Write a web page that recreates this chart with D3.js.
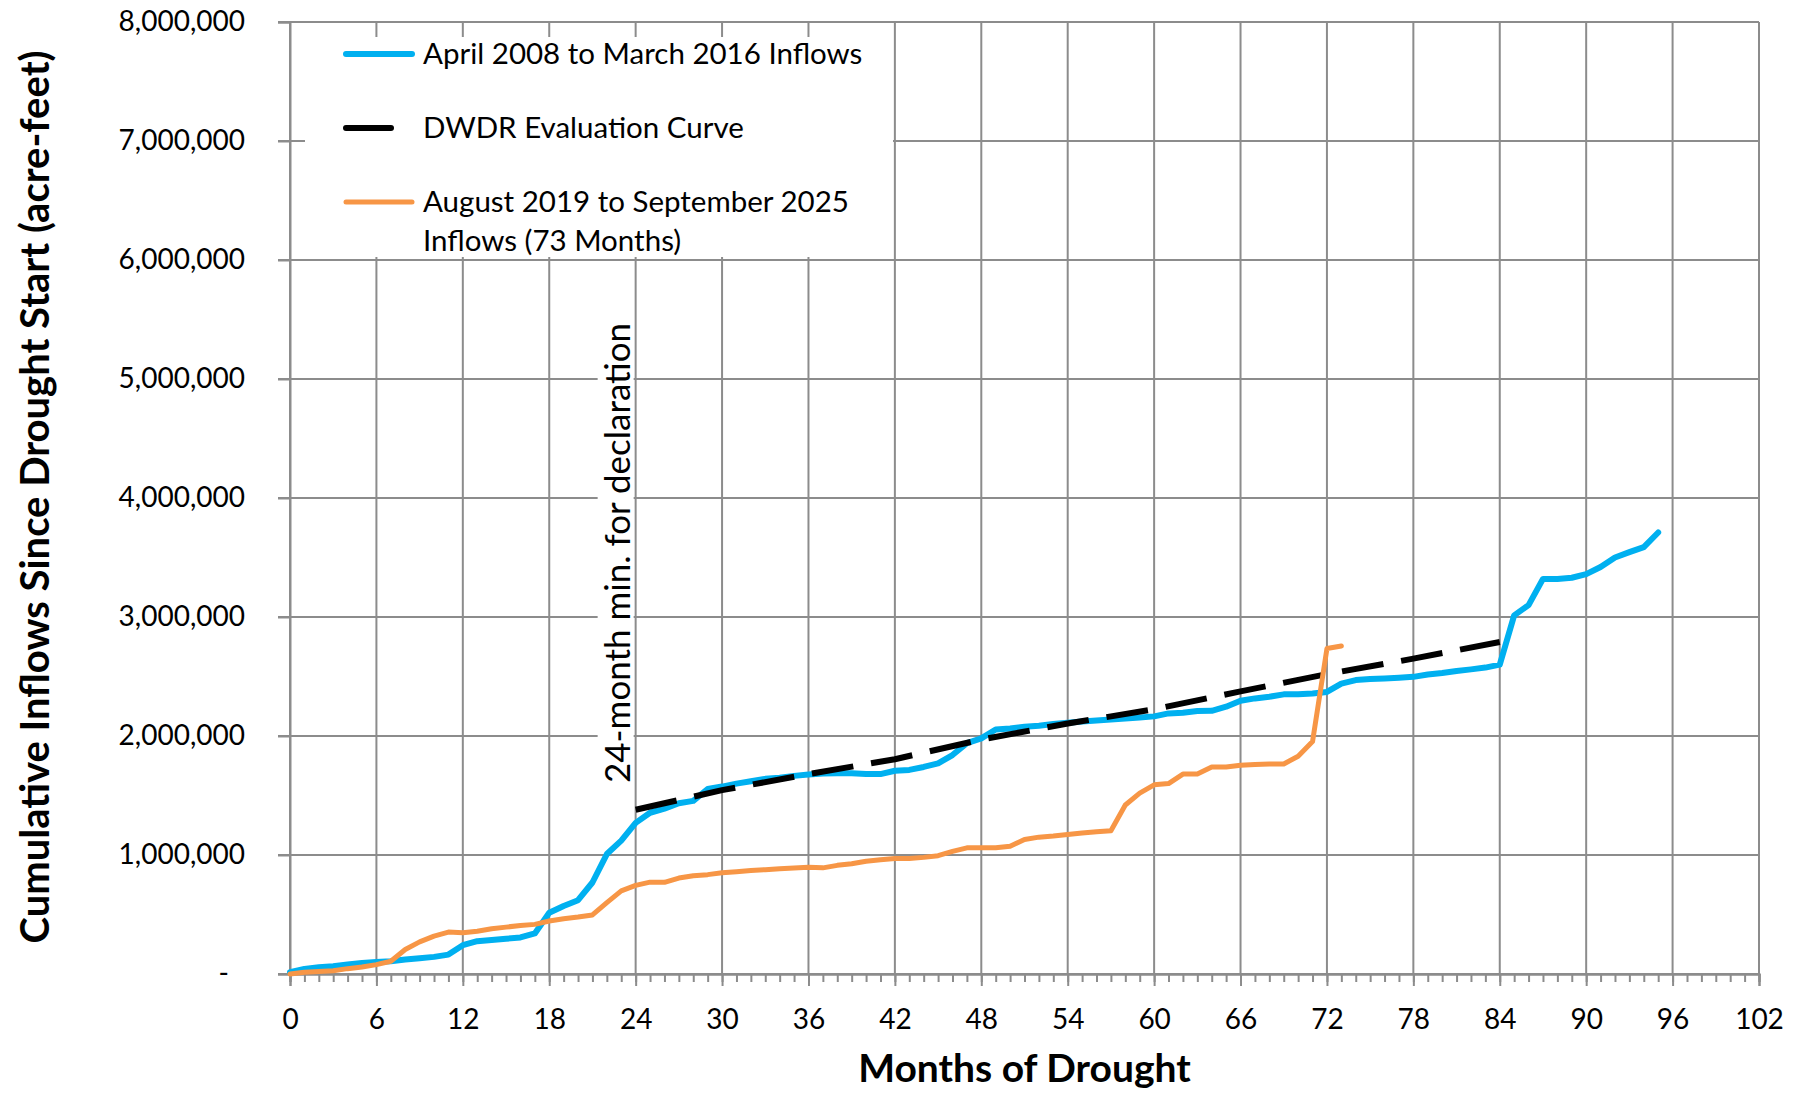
<!DOCTYPE html>
<html>
<head>
<meta charset="utf-8">
<script src="https://cdn.jsdelivr.net/npm/d3@7"></script>
<style>
body { margin: 0; background: #fff; }
text { font-family: Lato, sans-serif; fill: #000; }
</style>
</head>
<body>
<svg id="drawing_region"></svg>
<script>
// cumulative inflows, one value per month of drought (acre-feet)
const inflows_2008_2016 = [
    15000, 42000, 56000, 65000, 79000, 93000, 100000, 107000, 121000, 132000,
    144000, 163000, 242000, 276000, 285000, 296000, 307000, 341000, 515000, 572000,
    620000, 769000, 1008000, 1121000, 1270000, 1355000, 1390000, 1435000, 1455000, 1555000,
    1575000, 1600000, 1620000, 1640000, 1650000, 1665000, 1676000, 1685000, 1687000, 1687000,
    1680000, 1680000, 1708000, 1715000, 1740000, 1770000, 1840000, 1940000, 1980000, 2055000,
    2064000, 2078000, 2087000, 2100000, 2112000, 2122000, 2130000, 2138000, 2146000, 2155000,
    2165000, 2190000, 2195000, 2210000, 2212000, 2246000, 2296000, 2316000, 2330000, 2350000,
    2350000, 2357000, 2370000, 2440000, 2470000, 2478000, 2483000, 2490000, 2497000, 2517000,
    2530000, 2547000, 2560000, 2575000, 2600000, 3014000, 3100000, 3320000, 3320000, 3330000,
    3360000, 3420000, 3500000, 3545000, 3587000, 3710000
];
const inflows_2019_2025 = [
    0, 14000, 20000, 28000, 45000, 59000, 79000, 107000, 206000, 270000,
    318000, 352000, 346000, 360000, 380000, 394000, 408000, 417000, 445000, 465000,
    479000, 496000, 600000, 699000, 745000, 772000, 770000, 806000, 826000, 835000,
    850000, 860000, 870000, 877000, 885000, 890000, 897000, 892000, 913000, 927000,
    947000, 960000, 970000, 970000, 980000, 994000, 1030000, 1060000, 1060000, 1060000,
    1073000, 1130000, 1150000, 1160000, 1173000, 1184000, 1196000, 1204000, 1420000, 1520000,
    1590000, 1600000, 1680000, 1680000, 1740000, 1740000, 1754000, 1760000, 1765000, 1765000,
    1830000, 1953000, 2735000, 2757000
];
const dwdr_months = [24, 30, 36, 42, 48, 54, 60, 66, 72, 78, 84];
const dwdr_values = [1380000, 1545000, 1680000, 1805000, 1970000, 2105000, 2225000, 2375000, 2520000, 2650000, 2790000];

const x_ticks = [0, 6, 12, 18, 24, 30, 36, 42, 48, 54, 60, 66, 72, 78, 84, 90, 96, 102];
const y_ticks = [0, 1000000, 2000000, 3000000, 4000000, 5000000, 6000000, 7000000, 8000000];

const legend_labels = [
    ['April 2008 to March 2016 Inflows'],
    ['DWDR Evaluation Curve'],
    ['August 2019 to September 2025', 'Inflows (73 Months)']
];

class CumulativeChart {
    constructor (config, data) {
        this.config = {
            parent: config.parent,
            width: config.width || 1794,
            height: config.height || 1094,
            margin: config.margin || {top:22, right:35, bottom:120, left:290},
            xlabel: config.xlabel || '',
            ylabel: config.ylabel || ''
        };
        this.data = data;
        this.init();
    }

    init() {
        let self = this;

        self.svg = d3.select(self.config.parent)
            .attr('width', self.config.width)
            .attr('height', self.config.height);

        self.svg.append('rect')
            .attr('width', self.config.width)
            .attr('height', self.config.height)
            .attr('fill', '#fff');

        self.chart = self.svg.append('g')
            .attr('transform', `translate(${self.config.margin.left}, ${self.config.margin.top})`);

        self.inner_width = self.config.width - self.config.margin.left - self.config.margin.right;
        self.inner_height = self.config.height - self.config.margin.top - self.config.margin.bottom;

        self.xscale = d3.scaleLinear()
            .domain([0, 102])
            .range([0, self.inner_width]);

        self.yscale = d3.scaleLinear()
            .domain([0, 8000000])
            .range([self.inner_height, 0]);

        self.grid_group = self.chart.append('g');
        self.xaxis_group = self.chart.append('g')
            .attr('transform', `translate(0, ${self.inner_height})`);
        self.minor_group = self.chart.append('g')
            .attr('transform', `translate(0, ${self.inner_height})`);
        self.yaxis_group = self.chart.append('g');

        self.svg.append('text')
            .style('font-size', '39px')
            .style('font-weight', 'bold')
            .attr('x', self.config.margin.left + self.inner_width / 2)
            .attr('y', 1067)
            .attr('text-anchor', 'middle')
            .attr('dominant-baseline', 'central')
            .text( self.config.xlabel );

        self.svg.append('text')
            .style('font-size', '40px')
            .style('font-weight', 'bold')
            .attr('transform', `translate(34, 497) rotate(-90)`)
            .attr('text-anchor', 'middle')
            .attr('dominant-baseline', 'central')
            .text( self.config.ylabel );
    }

    update() {
        let self = this;

        self.series = [
            { key: 'blue', color: '#00B0F0', width: 6, dash: null,
              points: self.data.blue.map((v, i) => ({month: i, value: v})) },
            { key: 'dwdr', color: '#000', width: 6, dash: '42,18',
              points: dwdr_months.map((m, i) => ({month: m, value: dwdr_values[i]})) },
            { key: 'orange', color: '#F79646', width: 5, dash: null,
              points: self.data.orange.map((v, i) => ({month: i, value: v})) }
        ];

        self.line = d3.line()
            .x(d => self.xscale(d.month))
            .y(d => self.yscale(d.value));

        self.render();
    }

    render() {
        let self = this;
        const grid_color = '#8c8c8c';

        // grid
        self.grid_group.selectAll('line.hgrid')
            .data(y_ticks)
            .join('line')
            .attr('class', 'hgrid')
            .attr('x1', -12)
            .attr('x2', self.inner_width)
            .attr('y1', d => self.yscale(d))
            .attr('y2', d => self.yscale(d))
            .attr('stroke', grid_color)
            .attr('stroke-width', 2);

        self.grid_group.selectAll('line.vgrid')
            .data(x_ticks)
            .join('line')
            .attr('class', 'vgrid')
            .attr('x1', d => self.xscale(d))
            .attr('x2', d => self.xscale(d))
            .attr('y1', 0)
            .attr('y2', self.inner_height)
            .attr('stroke', grid_color)
            .attr('stroke-width', 2);

        // axes
        self.xaxis = d3.axisBottom(self.xscale)
            .tickValues(x_ticks)
            .tickSize(12)
            .tickPadding(23)
            .tickFormat(d => d);
        self.xaxis_group.call(self.xaxis);

        self.minor_group.call(d3.axisBottom(self.xscale)
            .tickValues(d3.range(0, 103))
            .tickSize(8)
            .tickFormat(''));

        self.yaxis = d3.axisLeft(self.yscale)
            .tickValues(y_ticks)
            .tickSize(12)
            .tickPadding(33)
            .tickFormat(d => d === 0 ? '-' : d3.format(',')(d));
        self.yaxis_group.call(self.yaxis);
        // accounting style dash sits a bit left of the digits
        self.yaxis_group.selectAll('.tick text')
            .filter(d => d === 0)
            .attr('dx', -16);

        [self.xaxis_group, self.minor_group, self.yaxis_group].forEach(g => {
            g.select('.domain').attr('stroke', grid_color).attr('stroke-width', 2);
            g.selectAll('.tick line').attr('stroke', grid_color).attr('stroke-width', 2);
            g.selectAll('.tick text').style('font-size', '28px').attr('fill', '#000');
        });

        // legend box covers the grid behind it
        const legend = self.svg.append('g');
        legend.append('rect')
            .attr('x', 305).attr('y', 37)
            .attr('width', 588).attr('height', 220)
            .attr('fill', '#fff');

        const legend_y = [54, 128, 202];
        legend.selectAll('line.sample')
            .data(self.series)
            .join('line')
            .attr('class', 'sample')
            .attr('x1', 346)
            .attr('x2', d => d.key === 'dwdr' ? 391 : 412)
            .attr('y1', (d, i) => legend_y[i])
            .attr('y2', (d, i) => legend_y[i])
            .attr('stroke', d => d.color)
            .attr('stroke-width', d => d.width)
            .attr('stroke-linecap', 'round');

        legend.selectAll('text')
            .data(legend_labels)
            .join('text')
            .attr('x', 423)
            .attr('y', (d, i) => legend_y[i])
            .style('font-size', '29.5px')
            .selectAll('tspan')
            .data(d => d)
            .join('tspan')
            .attr('x', 423)
            .attr('dy', (d, i) => i === 0 ? '0.35em' : '39px')
            .text(d => d);

        // annotation at 24 months
        const note = self.chart.append('g')
            .attr('transform', `translate(${self.xscale(24) - 20}, 531) rotate(-90)`);
        note.append('rect')
            .attr('x', -244).attr('y', -18)
            .attr('width', 488).attr('height', 36)
            .attr('fill', '#fff');
        note.append('text')
            .attr('text-anchor', 'middle')
            .attr('dominant-baseline', 'central')
            .style('font-size', '35px')
            .text('24-month min. for declaration');

        // data lines
        self.chart.selectAll('path.series')
            .data(self.series)
            .join('path')
            .attr('class', 'series')
            .attr('d', d => self.line(d.points))
            .attr('fill', 'none')
            .attr('stroke', d => d.color)
            .attr('stroke-width', d => d.width)
            .attr('stroke-dasharray', d => d.dash)
            .attr('stroke-linejoin', 'round')
            .attr('stroke-linecap', d => d.dash ? 'butt' : 'round');
    }
}

const chart = new CumulativeChart({
    parent: '#drawing_region',
    width: 1794,
    height: 1094,
    xlabel: 'Months of Drought',
    ylabel: 'Cumulative Inflows Since Drought Start (acre-feet)'
}, { blue: inflows_2008_2016, orange: inflows_2019_2025 });
chart.update();
</script>
</body>
</html>
